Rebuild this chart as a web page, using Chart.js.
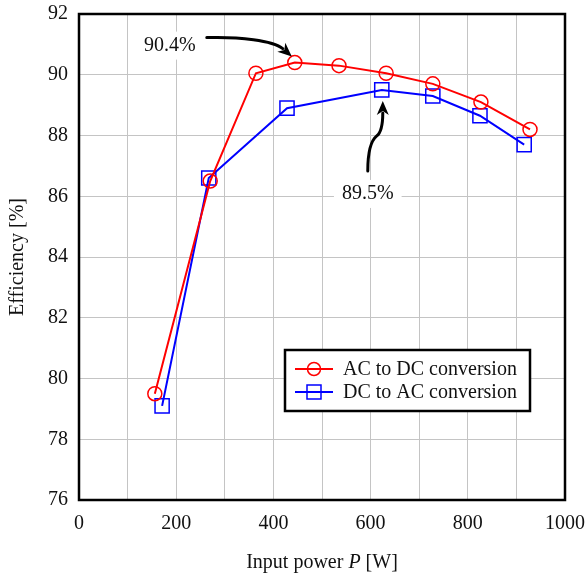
<!DOCTYPE html>
<html>
<head>
<meta charset="utf-8">
<script src="https://cdn.jsdelivr.net/npm/chart.js@4.4.0/dist/chart.umd.min.js"></script>
<style>
  html, body { margin: 0; padding: 0; background: #fff; }
  #wrap { width: 586px; height: 574px; }
</style>
</head>
<body>
<div id="wrap"><canvas id="effChart" width="586" height="574"></canvas></div>
<script>
// Efficiency vs input power
const acdcPower = [156, 270, 364, 444, 535, 632, 728, 827, 928];
const acdcEff = [79.5, 86.5, 90.05, 90.4, 90.3, 90.05, 89.7, 89.1, 88.2];
const dcacPower = [171, 267, 428, 623, 728, 825, 916];
const dcacEff = [79.1, 86.6, 88.9, 89.5, 89.3, 88.65, 87.7];
const seriesNames = ['AC to DC conversion', 'DC to AC conversion'];
const xTicks = [0, 200, 400, 600, 800, 1000];
const yTicks = [76, 78, 80, 82, 84, 86, 88, 90, 92];

const FONT = '"Liberation Serif", "Times New Roman", serif';

function toPoints(xs, ys) {
  return xs.map((x, i) => ({ x: x, y: ys[i] }));
}

function drawArrowHead(ctx, tipX, tipY, angle) {
  const len = 14, half = 6;
  ctx.save();
  ctx.translate(tipX, tipY);
  ctx.rotate(angle);
  ctx.beginPath();
  ctx.moveTo(0, 0);
  ctx.lineTo(-len, -half);
  ctx.lineTo(-len + 4, 0);
  ctx.lineTo(-len, half);
  ctx.closePath();
  ctx.fill();
  ctx.restore();
}

function labelBox(ctx, text, cx, cy) {
  ctx.font = '20px ' + FONT;
  const w = ctx.measureText(text).width;
  ctx.fillStyle = '#fff';
  ctx.fillRect(cx - w / 2 - 8, cy - 14, w + 16, 28);
  ctx.fillStyle = '#111';
  ctx.textAlign = 'center';
  ctx.textBaseline = 'middle';
  ctx.fillText(text, cx, cy);
}

// frame, axis titles, annotations and legend
const decorPlugin = {
  id: 'decor',
  beforeDatasetsDraw(chart) {
    const ctx = chart.ctx;
    const xs = chart.scales.x, ys = chart.scales.y;
    ctx.save();
    // 90.4% callout (peak of AC to DC)
    const p1x = xs.getPixelForValue(acdcPower[3]);
    const p1y = ys.getPixelForValue(acdcEff[3]);
    labelBox(ctx, '90.4%', p1x - 125, p1y - 17);
    // 89.5% callout (peak of DC to AC)
    const p2x = xs.getPixelForValue(dcacPower[3]);
    const p2y = ys.getPixelForValue(dcacEff[3]);
    labelBox(ctx, '89.5%', p2x - 14, p2y + 104);
    ctx.restore();
  },
  afterDatasetsDraw(chart) {
    const ctx = chart.ctx;
    const xs = chart.scales.x, ys = chart.scales.y;
    const a = chart.chartArea;
    ctx.save();
    ctx.strokeStyle = '#000';
    ctx.fillStyle = '#000';
    ctx.lineCap = 'round';

    // arrow to 90.4%
    const p1x = xs.getPixelForValue(acdcPower[3]);
    const p1y = ys.getPixelForValue(acdcEff[3]);
    const t1x = p1x - 3, t1y = p1y - 6;
    ctx.lineWidth = 3;
    ctx.beginPath();
    ctx.moveTo(p1x - 88, p1y - 25);
    ctx.bezierCurveTo(p1x - 55, p1y - 26, p1x - 22, p1y - 22, t1x - 9, t1y - 8);
    ctx.stroke();
    drawArrowHead(ctx, t1x, t1y, Math.atan2(8, 9));

    // arrow to 89.5%
    const p2x = xs.getPixelForValue(dcacPower[3]);
    const p2y = ys.getPixelForValue(dcacEff[3]);
    const t2x = p2x + 1, t2y = p2y + 11;
    ctx.beginPath();
    ctx.moveTo(p2x - 14, p2y + 81);
    ctx.bezierCurveTo(p2x - 14, p2y + 58, p2x - 10, p2y + 50, p2x - 5, p2y + 46);
    ctx.bezierCurveTo(p2x, p2y + 42, t2x, p2y + 34, t2x, t2y + 12);
    ctx.stroke();
    drawArrowHead(ctx, t2x, t2y, -Math.PI / 2);

    // plot frame
    ctx.lineWidth = 2.5;
    ctx.lineCap = 'butt';
    ctx.strokeRect(a.left, a.top, a.right - a.left, a.bottom - a.top);

    // legend box inside plot
    const lx = a.left + 206, ly = a.top + 336, lw = 245, lh = 61;
    ctx.fillStyle = '#fff';
    ctx.fillRect(lx, ly, lw, lh);
    ctx.lineWidth = 2.5;
    ctx.strokeStyle = '#000';
    ctx.strokeRect(lx, ly, lw, lh);
    const rows = [
      { name: seriesNames[0], color: '#ff0000', shape: 'circle', y: ly + 19 },
      { name: seriesNames[1], color: '#0000ff', shape: 'rect', y: ly + 42 }
    ];
    rows.forEach(r => {
      ctx.strokeStyle = r.color;
      ctx.lineWidth = 2;
      ctx.beginPath();
      ctx.moveTo(lx + 10, r.y);
      ctx.lineTo(lx + 48, r.y);
      ctx.stroke();
      ctx.lineWidth = 1.5;
      ctx.beginPath();
      if (r.shape === 'circle') {
        ctx.arc(lx + 29, r.y, 6.5, 0, Math.PI * 2);
      } else {
        ctx.rect(lx + 22, r.y - 7, 14, 14);
      }
      ctx.stroke();
      ctx.fillStyle = '#111';
      ctx.font = '20px ' + FONT;
      ctx.textAlign = 'left';
      ctx.textBaseline = 'middle';
      ctx.fillText(r.name, lx + 58, r.y + 1);
    });

    // axis titles
    ctx.fillStyle = '#111';
    ctx.textBaseline = 'middle';
    ctx.font = '20px ' + FONT;
    const parts = [
      { t: 'Input power ', f: '20px ' + FONT },
      { t: 'P', f: 'italic 20px ' + FONT },
      { t: ' [W]', f: '20px ' + FONT }
    ];
    let total = 0;
    parts.forEach(p => { ctx.font = p.f; p.w = ctx.measureText(p.t).width; total += p.w; });
    let tx = (a.left + a.right) / 2 - total / 2;
    ctx.textAlign = 'left';
    parts.forEach(p => { ctx.font = p.f; ctx.fillText(p.t, tx, 563); tx += p.w; });

    ctx.save();
    ctx.translate(18, (a.top + a.bottom) / 2);
    ctx.rotate(-Math.PI / 2);
    ctx.font = '20px ' + FONT;
    ctx.textAlign = 'center';
    ctx.fillText('Efficiency [%]', 0, 0);
    ctx.restore();

    ctx.restore();
  }
};

const ctx = document.getElementById('effChart').getContext('2d');
new Chart(ctx, {
  type: 'line',
  data: {
    datasets: [{
      label: seriesNames[0],
      data: toPoints(acdcPower, acdcEff),
      borderColor: '#ff0000',
      borderWidth: 2,
      pointStyle: 'circle',
      pointRadius: 7,
      pointBorderWidth: 1.5,
      pointBorderColor: '#ff0000',
      pointBackgroundColor: 'rgba(0,0,0,0)',
      tension: 0
    }, {
      label: seriesNames[1],
      data: toPoints(dcacPower, dcacEff),
      borderColor: '#0000ff',
      borderWidth: 2,
      pointStyle: 'rect',
      pointRadius: 10,
      pointBorderWidth: 1.5,
      pointBorderColor: '#0000ff',
      pointBackgroundColor: 'rgba(0,0,0,0)',
      tension: 0
    }]
  },
  options: {
    responsive: false,
    animation: false,
    events: [],
    layout: { padding: { left: 0, top: 14, right: 21, bottom: 0 } },
    plugins: {
      legend: { display: false },
      tooltip: { enabled: false }
    },
    scales: {
      x: {
        type: 'linear',
        min: 0,
        max: 1000,
        afterFit(scale) {
          scale.height = 74;
          scale.paddingLeft = 0;
          scale.paddingRight = 0;
        },
        afterBuildTicks(scale) {
          const t = [];
          for (let v = 0; v <= 1000; v += 100) t.push({ value: v });
          scale.ticks = t;
        },
        ticks: {
          autoSkip: false,
          maxRotation: 0,
          padding: 12,
          color: '#111',
          font: { family: FONT, size: 20 },
          callback: v => xTicks.includes(v) ? String(v) : ''
        },
        grid: { color: '#c4c4c4', lineWidth: 1, drawTicks: false },
        border: { display: false }
      },
      y: {
        type: 'linear',
        min: 76,
        max: 92,
        afterFit(scale) {
          scale.width = 79;
          scale.paddingTop = 0;
          scale.paddingBottom = 0;
        },
        afterBuildTicks(scale) {
          scale.ticks = yTicks.map(v => ({ value: v }));
        },
        ticks: {
          padding: 11,
          color: '#111',
          font: { family: FONT, size: 20 }
        },
        grid: { color: '#c4c4c4', lineWidth: 1, drawTicks: false },
        border: { display: false }
      }
    }
  },
  plugins: [decorPlugin]
});
</script>
</body>
</html>
